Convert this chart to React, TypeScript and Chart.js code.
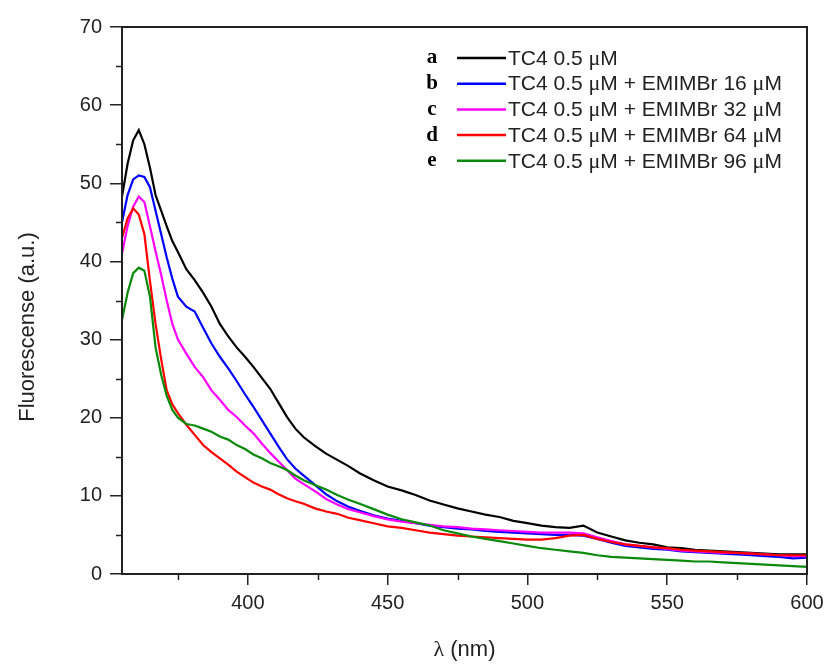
import React, { useEffect, useRef } from 'react';
import { Chart, registerables } from 'chart.js';
Chart.register(...registerables);

const wavelengths = [355, 357, 359, 361, 363, 365, 367, 369, 371, 373, 375, 378, 381, 384, 387, 390, 393, 396, 399, 402, 405, 408, 411, 414, 417, 420, 424, 428, 432, 436, 440, 445, 450, 455, 460, 465, 470, 475, 480, 485, 490, 495, 500, 505, 510, 515, 520, 525, 530, 535, 540, 545, 550, 555, 560, 565, 570, 575, 580, 585, 590, 595, 600];

const seriesA = [48.3, 52.5, 55.5, 56.8, 55.0, 52.0, 48.5, 46.5, 44.5, 42.6, 41.2, 39.0, 37.6, 36.0, 34.2, 32.0, 30.4, 29.0, 27.8, 26.5, 25.1, 23.7, 21.9, 20.1, 18.6, 17.5, 16.4, 15.4, 14.6, 13.8, 12.9, 12.0, 11.2, 10.7, 10.1, 9.4, 8.9, 8.4, 8.0, 7.6, 7.3, 6.8, 6.5, 6.2, 6.0, 5.9, 6.2, 5.3, 4.8, 4.3, 4.0, 3.8, 3.4, 3.3, 3.1, 3.0, 2.9, 2.8, 2.7, 2.6, 2.5, 2.5, 2.5];
const seriesB = [45.0, 48.5, 50.5, 51.0, 50.8, 49.5, 46.5, 43.5, 40.5, 37.8, 35.5, 34.2, 33.6, 31.5, 29.5, 27.8, 26.3, 24.7, 23.0, 21.4, 19.7, 18.0, 16.3, 14.7, 13.5, 12.6, 11.4, 10.2, 9.3, 8.6, 8.1, 7.5, 7.1, 6.8, 6.5, 6.2, 6.0, 5.8, 5.7, 5.5, 5.4, 5.3, 5.2, 5.1, 5.0, 5.0, 4.9, 4.5, 4.0, 3.6, 3.4, 3.2, 3.1, 2.9, 2.8, 2.7, 2.6, 2.5, 2.4, 2.3, 2.2, 2.0, 2.1];
const seriesC = [41.0, 44.5, 47.0, 48.3, 47.6, 44.5, 41.3, 38.3, 35.0, 32.0, 30.0, 28.2, 26.5, 25.2, 23.5, 22.3, 21.0, 20.1, 19.0, 18.0, 16.7, 15.5, 14.4, 13.3, 12.2, 11.5, 10.6, 9.6, 8.9, 8.3, 7.9, 7.4, 7.0, 6.7, 6.5, 6.3, 6.1, 6.0, 5.8, 5.7, 5.6, 5.5, 5.4, 5.3, 5.3, 5.3, 5.2, 4.7, 4.2, 3.8, 3.6, 3.4, 3.2, 3.0, 2.9, 2.8, 2.7, 2.7, 2.6, 2.5, 2.4, 2.3, 2.3];
const seriesD = [43.0, 45.5, 46.8, 46.0, 43.5, 37.5, 32.0, 27.5, 23.5, 21.7, 20.6, 19.1, 17.8, 16.5, 15.6, 14.8, 14.0, 13.1, 12.4, 11.7, 11.2, 10.8, 10.2, 9.7, 9.3, 9.0, 8.4, 8.0, 7.7, 7.2, 6.9, 6.5, 6.1, 5.9, 5.6, 5.3, 5.1, 4.9, 4.8, 4.7, 4.6, 4.5, 4.4, 4.4, 4.6, 4.9, 5.0, 4.5, 4.1, 3.8, 3.6, 3.4, 3.3, 3.1, 3.0, 2.9, 2.8, 2.7, 2.6, 2.5, 2.4, 2.4, 2.4];
const seriesE = [32.5, 36.0, 38.5, 39.2, 38.8, 35.5, 29.0, 25.5, 22.8, 21.0, 20.0, 19.2, 19.0, 18.6, 18.2, 17.6, 17.2, 16.5, 16.0, 15.3, 14.8, 14.2, 13.8, 13.3, 12.6, 12.0, 11.4, 10.8, 10.1, 9.5, 9.0, 8.3, 7.6, 7.0, 6.6, 6.2, 5.6, 5.2, 4.8, 4.5, 4.2, 3.9, 3.6, 3.3, 3.1, 2.9, 2.7, 2.4, 2.2, 2.1, 2.0, 1.9, 1.8, 1.7, 1.6, 1.6, 1.5, 1.4, 1.3, 1.2, 1.1, 1.0, 0.9];

const seriesLetters = ['a', 'b', 'c', 'd', 'e'];
const seriesLabels = [
  'TC4 0.5 \u03bcM',
  'TC4 0.5 \u03bcM + EMIMBr 16 \u03bcM',
  'TC4 0.5 \u03bcM + EMIMBr 32 \u03bcM',
  'TC4 0.5 \u03bcM + EMIMBr 64 \u03bcM',
  'TC4 0.5 \u03bcM + EMIMBr 96 \u03bcM',
];
const seriesColors = ['#000000', '#0000ff', '#ff00ff', '#ff0000', '#0a8a0a'];

const xMajorTicks = [400, 450, 500, 550, 600];
const xMinorTicks = [375, 425, 475, 525, 575];
const yMajorTicks = [0, 10, 20, 30, 40, 50, 60, 70];
const yMinorTicks = [5, 15, 25, 35, 45, 55, 65];
const xTitle = '\u03bb (nm)';
const yTitle = 'Fluorescense (a.u.)';

const FONT = '"Liberation Sans", Arial, sans-serif';
const SERIF = '"Liberation Serif", "Times New Roman", serif';
const AXIS_COLOR = '#222222';

// draws text where Greek mu is set in a serif face (like the Symbol font of the original)
function drawMixed(ctx: CanvasRenderingContext2D, text: string, x: number, y: number, size: number) {
  const parts = text.split(/(\u03bc)/);
  let cx = x;
  for (const p of parts) {
    if (!p) continue;
    ctx.font = p === '\u03bc' ? `${size + 1}px ${SERIF}` : `${size}px ${FONT}`;
    ctx.fillText(p, cx, y);
    cx += ctx.measureText(p).width;
  }
}

const decorPlugin = {
  id: 'decor',
  afterDraw(chart: any) {
    const ctx = chart.ctx;
    const { left, right, top, bottom } = chart.chartArea;
    const xs = chart.scales.x;
    const ys = chart.scales.y;
    ctx.save();
    ctx.strokeStyle = AXIS_COLOR;
    ctx.lineWidth = 2;
    ctx.strokeRect(left, top, right - left, bottom - top);
    ctx.lineWidth = 1.5;
    ctx.beginPath();
    xMinorTicks.forEach((v) => {
      const px = Math.round(xs.getPixelForValue(v)) + 0.5;
      ctx.moveTo(px, bottom);
      ctx.lineTo(px, bottom + 6);
    });
    yMinorTicks.forEach((v) => {
      const py = Math.round(ys.getPixelForValue(v)) + 0.5;
      ctx.moveTo(left, py);
      ctx.lineTo(left - 6, py);
    });
    ctx.stroke();
    ctx.fillStyle = AXIS_COLOR;
    ctx.textAlign = 'center';
    ctx.textBaseline = 'middle';
    ctx.font = `22px ${SERIF}`;
    const lw = ctx.measureText('\u03bb').width;
    ctx.font = `22px ${FONT}`;
    const rest = xTitle.slice(1);
    const rw = ctx.measureText(rest).width;
    const startX = (left + right) / 2 - (lw + rw) / 2;
    ctx.textAlign = 'left';
    ctx.font = `22px ${SERIF}`;
    ctx.fillText('\u03bb', startX, 650);
    ctx.font = `22px ${FONT}`;
    ctx.fillText(rest, startX + lw, 650);
    ctx.textAlign = 'center';
    ctx.save();
    ctx.translate(28, 327);
    ctx.rotate(-Math.PI / 2);
    ctx.fillText(yTitle, 0, 0);
    ctx.restore();
    for (let i = 0; i < seriesLabels.length; i++) {
      const y = 58 + i * 25.7;
      ctx.font = `bold 21px ${SERIF}`;
      ctx.textAlign = 'center';
      ctx.fillStyle = '#000';
      ctx.fillText(seriesLetters[i], 432, y);
      ctx.strokeStyle = seriesColors[i];
      ctx.lineWidth = 2.5;
      ctx.beginPath();
      ctx.moveTo(457, y);
      ctx.lineTo(506, y);
      ctx.stroke();
      ctx.textAlign = 'left';
      ctx.fillStyle = AXIS_COLOR;
      drawMixed(ctx, seriesLabels[i], 508, y + 1, 21);
    }
    ctx.restore();
  },
};

export default function App() {
  const canvasRef = useRef<HTMLCanvasElement | null>(null);
  useEffect(() => {
    if (!canvasRef.current) return;
    const series = [seriesA, seriesB, seriesC, seriesD, seriesE];
    const chart = new Chart(canvasRef.current, {
      type: 'line',
      data: {
        datasets: series.map((vals, i) => ({
          label: seriesLabels[i],
          data: wavelengths.map((x, j) => ({ x, y: vals[j] })),
          borderColor: seriesColors[i],
          borderWidth: 2.2,
          pointRadius: 0,
          tension: 0,
          fill: false,
        })).reverse(),
      },
      options: {
        animation: false,
        responsive: true,
        maintainAspectRatio: false,
        devicePixelRatio: 1,
        layout: { padding: { top: 27, right: 18, left: 0, bottom: 0 } },
        plugins: { legend: { display: false }, tooltip: { enabled: false } },
        scales: {
          x: {
            type: 'linear',
            min: 355,
            max: 600,
            afterBuildTicks: (s: any) => {
              s.ticks = xMajorTicks.map((v) => ({ value: v }));
            },
            afterFit: (s: any) => {
              s.height = 90;
              s.paddingRight = 0;
              s.paddingLeft = 0;
            },
            ticks: { font: { size: 20, family: FONT }, color: AXIS_COLOR, maxRotation: 0, padding: 6 },
            grid: { display: true, drawOnChartArea: false, drawTicks: true, tickLength: 11, color: AXIS_COLOR, lineWidth: 1.5 },
            border: { display: false },
          },
          y: {
            type: 'linear',
            min: 0,
            max: 70,
            afterBuildTicks: (s: any) => {
              s.ticks = yMajorTicks.map((v) => ({ value: v }));
            },
            afterFit: (s: any) => {
              s.width = 122;
              s.paddingTop = 0;
              s.paddingBottom = 0;
            },
            ticks: { font: { size: 20, family: FONT }, color: AXIS_COLOR, padding: 8 },
            grid: { display: true, drawOnChartArea: false, drawTicks: true, tickLength: 12, color: AXIS_COLOR, lineWidth: 1.5 },
            border: { display: false },
          },
        },
      },
      plugins: [decorPlugin],
    });
    return () => chart.destroy();
  }, []);
  return (
    <div style={{ position: 'fixed', left: 0, top: 0, width: 825, height: 664, background: '#ffffff' }}>
      <canvas ref={canvasRef} />
    </div>
  );
}
